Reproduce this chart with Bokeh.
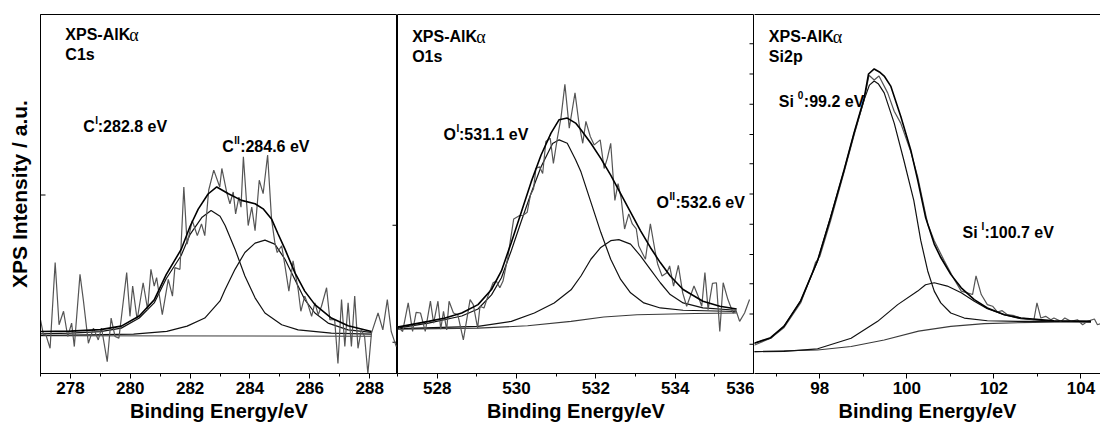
import math
from bokeh.plotting import figure
from bokeh.layouts import row
from bokeh.models import Range1d, FixedTicker, LinearAxis, Label
from bokeh.embed import file_html
from bokeh.resources import INLINE

FONT = "Liberation Sans"
SERIF = "Liberation Serif"

# ---------------- Panel 1 : C1s ----------------
c1s_raw_x = [277.0, 277.10, 277.18, 277.32, 277.49, 277.62, 277.77, 277.91, 278.04, 278.13,
             278.32, 278.43, 278.60, 278.77, 278.93, 279.04, 279.23, 279.36, 279.49, 279.62,
             279.88, 279.99, 280.08, 280.23, 280.43, 280.58, 280.69, 280.80, 280.88, 281.07,
             281.27, 281.41, 281.49, 281.66, 281.79, 281.90, 282.07, 282.24, 282.38, 282.49,
             282.62, 282.79, 282.99, 283.06, 283.22, 283.33, 283.44, 283.52, 283.63, 283.70,
             283.78, 283.94, 284.06, 284.17, 284.31, 284.44, 284.59, 284.72, 284.83, 284.91,
             285.06, 285.17, 285.30, 285.44, 285.61, 285.70, 285.83, 285.94, 286.06, 286.17,
             286.28, 286.39, 286.56, 286.67, 286.83, 286.94, 287.06, 287.17, 287.28, 287.39,
             287.50, 287.61, 287.72, 287.83, 287.94, 288.06, 288.28, 288.44, 288.59, 288.72,
             288.89]
c1s_raw_y = [53.3, 38.3, 38.3, 25, 110, 48.3, 61.7, 36.7, 50, 26.7,
             98.3, 73.3, 30, 45, 33.3, 45, 11.7, 55, 36.7, 35,
             100, 56.7, 86.7, 53.3, 90, 63.3, 103.3, 86.7, 95, 58.3,
             93.3, 76.7, 105, 103.3, 185, 128.3, 151.7, 136.7, 148.3, 136.7,
             181.7, 201.7, 185, 203.3, 180, 168.3, 180, 158.3, 175, 165,
             215, 146.7, 165, 141.7, 191.7, 178.3, 216.7, 153.3, 130, 120,
             126.7, 106.7, 81.7, 111.7, 83.3, 61.7, 76.7, 68.3, 56.7, 70,
             58.3, 66.7, 85, 53.3, 53.3, 10, 73.3, 26.7, 70, 26.7,
             76.7, 25, 43.3, 36.7, 0, 40, 60, 43.3, 73.3, 41.7,
             26.7]
c1s_env_x = [277.0, 278.0, 279.0, 279.7, 280.3, 280.8, 281.2, 281.7, 282.0, 282.27,
             282.6, 282.89, 283.28, 283.72, 284.17, 284.44, 284.72, 284.94, 285.17, 285.5,
             285.83, 286.17, 286.72, 287.28, 288.06]
c1s_env_y = [41.7, 42, 43.5, 47, 57, 73, 98, 123, 146, 163,
             178, 185, 178.3, 171.7, 168.3, 163.3, 153.3, 138.3, 123.3, 100,
             81.7, 68.3, 55, 47.3, 41.7]
c1s_p1_x = [277.0, 278.0, 279.0, 279.7, 280.3, 280.8, 281.2, 281.7, 282.0, 282.4,
            282.7, 283.0, 283.17, 283.5, 283.83, 284.17, 284.5, 285.06, 285.61, 286.72,
            288.06]
c1s_p1_y = [39.3, 40, 41.5, 45, 55, 70, 94, 117, 138, 155,
            161.7, 156, 146.7, 123.3, 96.7, 75, 60, 48.3, 43.3, 40,
            39]
c1s_p2_x = [277.0, 280.11, 281.22, 281.9, 282.49, 283.0, 283.17, 283.5, 283.83, 284.17,
            284.5, 284.83, 285.17, 285.5, 285.83, 286.17, 286.61, 287.28, 288.06]
c1s_p2_y = [37.7, 39, 41.7, 47, 55, 72, 83.3, 103.3, 120, 129.3,
            132.3, 128.3, 113.3, 93.3, 73.3, 60, 50, 43.3, 40.7]
c1s_bg_x = [277.0, 288.06]
c1s_bg_y = [37.5, 37.0]

# ---------------- Panel 2 : O1s ----------------
o1s_raw_x = [527.0, 527.13, 527.27, 527.38, 527.47, 527.58, 527.70, 527.83, 527.91, 528.02,
             528.09, 528.16, 528.24, 528.30, 528.41, 528.52, 528.66, 528.83, 528.91, 529.02,
             529.08, 529.18, 529.28, 529.41, 529.49, 529.58, 529.66, 529.78, 529.93, 530.08,
             530.16, 530.27, 530.35, 530.43, 530.49, 530.58, 530.66, 530.74, 530.85, 530.93,
             531.03, 531.12, 531.22, 531.33, 531.475, 531.58, 531.67, 531.75, 531.86, 531.96,
             532.11, 532.21, 532.29, 532.375, 532.48, 532.56, 532.64, 532.725, 532.83, 532.92,
             533.02, 533.08, 533.25, 533.375, 533.5, 533.56, 533.67, 533.79, 533.86, 533.96,
             534.08, 534.19, 534.29, 534.475, 534.58, 534.67, 534.75, 534.83, 534.94, 535.04,
             535.125, 535.21, 535.33, 535.46, 535.54, 535.625, 535.75, 535.875]
o1s_raw_y = [46.7, 41.7, 70, 41.7, 60.7, 60, 41.7, 71.7, 50, 71.7,
             44, 61.7, 43.3, 71.7, 60, 58.3, 33.3, 73.3, 68.3, 45,
             66.7, 65, 76.7, 90, 91.7, 85, 91.7, 115, 153.3, 156.7,
             156.7, 160, 176.7, 183.3, 203.3, 205, 198.3, 230, 233.3, 208.3,
             233.3, 253.3, 286.7, 243.3, 278.3, 246.7, 228.3, 250, 235, 226.7,
             231.7, 203.3, 213.3, 228.3, 171.7, 188.3, 173.3, 143.3, 158.3, 148.3,
             143.3, 126.7, 113.3, 148.3, 120, 108.3, 96.7, 100, 106.7, 86.7,
             107.3, 80, 66.7, 86.7, 76.7, 66.7, 100, 63.3, 89.3, 90,
             41.7, 90, 73.3, 60, 61.7, 51.7, 60, 73.3]
o1s_env_x = [527.0, 527.78, 528.2, 528.62, 529.03, 529.37, 529.62, 529.87, 530.12, 530.37,
             530.62, 530.87, 531.075, 531.28, 531.49, 531.625, 531.875, 532.125, 532.375, 532.625,
             532.875, 533.125, 533.375, 533.625, 533.875, 534.2, 534.7, 535.125, 535.55]
o1s_env_y = [46, 51.7, 55, 60, 68.3, 83.3, 101.7, 130, 160, 190,
             216.7, 238.3, 251.7, 253.3, 248.3, 241.7, 228.3, 213.3, 196.7, 178.3,
             160, 141.7, 125, 110, 96.7, 83.3, 71.7, 66.7, 64]
o1s_p1_x = [527.0, 527.78, 528.62, 529.03, 529.37, 529.62, 529.87, 530.12, 530.37, 530.62,
            530.91, 531.075, 531.28, 531.49, 531.625, 531.875, 532.125, 532.375, 532.625, 532.875,
            533.21, 533.625, 534.2, 535.55]
o1s_p1_y = [45, 50, 57, 64, 78, 95, 122, 151, 179, 205,
            228, 231.7, 228.3, 212, 200, 170, 140, 113.3, 93.3, 80,
            70, 65, 62.7, 61.5]
o1s_p2_x = [527.0, 529.03, 529.87, 530.45, 530.95, 531.375, 531.625, 531.875, 532.125, 532.375,
            532.58, 532.875, 533.125, 533.375, 533.625, 533.875, 534.2, 534.7, 535.55]
o1s_p2_y = [44.5, 46.7, 51.7, 60, 70, 83, 96.7, 113.3, 125, 131.7,
            132.7, 128.3, 116.7, 103.3, 90, 78.3, 70, 65, 62.7]
o1s_bg_x = [527.0, 529.03, 530.28, 531.375, 532.2, 533.04, 534.5, 535.55]
o1s_bg_y = [44, 45, 47.3, 51.7, 56, 58.3, 59.5, 60]

# ---------------- Panel 3 : Si2p ----------------
si_raw_x = [96.49, 96.87, 97.18, 97.56, 97.83, 97.90, 98.00, 98.25, 98.56, 98.79,
            99.02, 99.13, 99.25, 99.36, 99.56, 99.71, 99.86, 100.09, 100.25, 100.43,
            100.48, 100.63, 100.86, 101.09, 101.25, 101.39, 101.51, 101.59, 101.71, 101.85,
            101.97, 102.08, 102.19, 102.31, 102.47, 102.62, 102.78, 102.92, 102.99, 103.08,
            103.19, 103.31, 103.38, 103.54, 103.63, 103.77, 103.92, 104.04, 104.15, 104.31,
            104.38, 104.49]
si_raw_y = [28, 35, 45.7, 70, 100, 110, 116, 151.7, 200, 236.7,
            271.7, 295.7, 291, 295, 278.3, 260, 248.3, 220, 195, 158.3,
            148.3, 131.7, 111.7, 93.3, 81.7, 80, 78.3, 96.7, 78.3, 68.3,
            66.7, 61, 62.3, 58.3, 57.3, 55, 54.3, 53.3, 70, 55,
            56.7, 53.3, 55, 51.7, 55, 51.7, 53.3, 48.3, 51.7, 54,
            48.3, 50]
si_env_x = [96.49, 96.87, 97.18, 97.56, 97.95, 98.25, 98.56, 98.79, 99.02, 99.12,
            99.25, 99.37, 99.48, 99.63, 99.86, 100.09, 100.25, 100.43, 100.63, 100.78,
            101.01, 101.25, 101.55, 101.85, 102.24, 102.62, 103.38, 104.23]
si_env_y = [30, 35.5, 47, 72, 112, 155, 202, 239, 273, 297,
            302, 299, 295, 285, 255, 221.7, 191.7, 155, 128.3, 115,
            98.3, 85, 73.3, 65, 58.3, 55, 52.3, 51.7]
si_p0_x = [96.49, 96.87, 97.18, 97.56, 97.95, 98.25, 98.56, 98.79, 99.02, 99.14,
           99.25, 99.35, 99.48, 99.71, 99.93, 100.16, 100.32, 100.48, 100.63, 100.78,
           101.01, 101.32, 101.85, 102.62, 104.23]
si_p0_y = [30, 35, 46.7, 71.7, 111.7, 155, 201.7, 238.3, 271.7, 286,
           290, 287, 278.3, 248.3, 211.7, 171.7, 132, 101.7, 81.7, 70,
           60, 55, 52.3, 51.7, 51.7]
si_p1_x = [96.49, 97.18, 97.95, 98.72, 99.33, 99.79, 100.25, 100.43, 100.63, 100.93,
           101.25, 101.55, 101.85, 102.24, 102.62, 103.38, 104.23]
si_p1_y = [21.7, 22, 24.5, 35, 51.7, 68.3, 81.7, 88, 90, 86.7,
           80, 71.7, 64.3, 58.3, 54.3, 51.7, 51]
si_bg_x = [96.49, 97.95, 98.72, 99.48, 100.27, 101.01, 101.78, 102.92, 104.23]
si_bg_y = [21.7, 23.3, 26.7, 33.3, 42, 46.7, 49.5, 50.7, 51.5]

# intensity tick marks (no labels on the intensity scales)
p1_left_ticks = [0, 177]
p1_right_ticks = [31, 147]
p2_right_ticks = [29, 59, 89, 118, 148, 178, 208, 237, 267, 297, 327]

RAW = "#555555"
FIT = "#111111"
ENV = "#000000"
BG = "#3a3a3a"

H = 424


def make_fig(width, xr, left_border, majors, minors, outline=True):
    p = figure(width=width, height=H, x_range=Range1d(*xr), y_range=Range1d(0, 356),
               output_backend="svg", toolbar_location=None,
               min_border_left=left_border, min_border_right=0,
               min_border_top=14, min_border_bottom=0)
    p.grid.visible = False
    p.background_fill_color = "white"
    p.border_fill_color = "white"
    p.outline_line_color = "black" if outline else None
    p.outline_line_width = 1
    xa = p.xaxis[0]
    xa.ticker = FixedTicker(ticks=majors, minor_ticks=minors)
    xa.major_tick_in = 0
    xa.major_tick_out = 5
    xa.minor_tick_in = 0
    xa.minor_tick_out = 3
    xa.axis_line_color = "black"
    xa.major_tick_line_color = "black"
    xa.minor_tick_line_color = "black"
    xa.major_label_text_font = FONT
    xa.major_label_text_font_style = "bold"
    xa.major_label_text_font_size = "17px"
    xa.major_label_text_color = "black"
    xa.major_label_standoff = 3
    xa.axis_label = "Binding Energy/eV"
    xa.axis_label_text_font = FONT
    xa.axis_label_text_font_style = "bold"
    xa.axis_label_text_font_size = "20px"
    xa.axis_label_text_color = "black"
    xa.axis_label_standoff = 3
    return p


def y_ticks(p, x_edge, ticks, angle):
    p.ray(x=[x_edge] * len(ticks), y=ticks, length=5, length_units="screen",
          angle=angle, line_color="black", line_width=1)


def draw(p, raw, bg, peaks, env):
    p.line(bg[0], bg[1], line_color=BG, line_width=1.1)
    for px, py in peaks:
        p.line(px, py, line_color=FIT, line_width=1.2)
    p.line(raw[0], raw[1], line_color=RAW, line_width=1.2)
    p.line(env[0], env[1], line_color=ENV, line_width=1.6)


def text(p, x, y, parts):
    for s, dx, dy, size in parts:
        font = SERIF if s == "α" else FONT
        style = "normal" if s == "α" else "bold"
        p.add_layout(Label(x=x, y=y, text=s, x_offset=dx, y_offset=dy,
                           text_font=font, text_font_style=style,
                           text_font_size=size, text_color="black",
                           text_baseline="middle", text_align="left"))


HEADER = [("XPS-AlK", 0, 0, "16px"), ("α", 64, 0, "18px")]

# ---- Panel 1
X1 = (277.0, 288.93)
p1 = make_fig(397, X1, 40, [278, 280, 282, 284, 286, 288],
              [277, 279, 281, 283, 285, 287, 289])
ya = p1.yaxis[0]
ya.ticker = FixedTicker(ticks=[], minor_ticks=[])
ya.major_tick_in = 0
ya.major_tick_out = 0
ya.minor_tick_in = 0
ya.minor_tick_out = 0
ya.major_label_standoff = 0
ya.axis_line_color = "black"
ya.axis_label = "XPS Intensity / a.u."
ya.axis_label_text_font = FONT
ya.axis_label_text_font_style = "bold"
ya.axis_label_text_font_size = "21px"
ya.axis_label_text_color = "black"
ya.axis_label_standoff = 10
y_ticks(p1, X1[0], p1_left_ticks, 0)
y_ticks(p1, X1[1], p1_right_ticks, math.pi)
draw(p1, (c1s_raw_x, c1s_raw_y), (c1s_bg_x, c1s_bg_y),
     [(c1s_p1_x, c1s_p1_y), (c1s_p2_x, c1s_p2_y)], (c1s_env_x, c1s_env_y))
text(p1, 277.83, 336, HEADER)
text(p1, 277.83, 316, [("C1s", 0, 0, "16px")])
text(p1, 278.43, 245, [("C", 0, 0, "16px"), ("I", 12, 6, "10px"), (":282.8 eV", 14.5, 0, "16px")])
text(p1, 283.07, 225, [("C", 0, 0, "16px"), ("II", 12, 6, "10px"), (":284.6 eV", 18, 0, "16px")])

# ---- Panel 2
X2 = (527.0, 536.0)
p2 = make_fig(357, X2, 0, [528, 530, 532, 534, 536], [527, 529, 531, 533, 535])
p2.yaxis.visible = False
y_ticks(p2, X2[1], p2_right_ticks, math.pi)
draw(p2, (o1s_raw_x, o1s_raw_y), (o1s_bg_x, o1s_bg_y),
     [(o1s_p1_x, o1s_p1_y), (o1s_p2_x, o1s_p2_y)], (o1s_env_x, o1s_env_y))
text(p2, 527.37, 334, HEADER)
text(p2, 527.37, 314, [("O1s", 0, 0, "16px")])
text(p2, 528.16, 236.7, [("O", 0, 0, "16px"), ("I", 13, 6, "10px"), (":531.1 eV", 15.5, 0, "16px")])
text(p2, 533.53, 170, [("O", 0, 0, "16px"), ("II", 13, 6, "10px"), (":532.6 eV", 19, 0, "16px")])

# ---- Panel 3
X3 = (96.5, 104.45)
p3 = make_fig(346, X3, 0, [98, 100, 102, 104], [97, 99, 101, 103], outline=False)
p3.yaxis.visible = False
top = LinearAxis(ticker=FixedTicker(ticks=[], minor_ticks=[]), major_tick_in=0, major_tick_out=0,
                 minor_tick_in=0, minor_tick_out=0, major_label_standoff=0,
                 axis_line_color="black")
p3.add_layout(top, "above")
draw(p3, (si_raw_x, si_raw_y), (si_bg_x, si_bg_y),
     [(si_p0_x, si_p0_y), (si_p1_x, si_p1_y)], (si_env_x, si_env_y))
text(p3, 96.83, 334, HEADER)
text(p3, 96.83, 314, [("Si2p", 0, 0, "16px")])
text(p3, 97.06, 270, [("Si", 0, 0, "16px"), ("0", 19, 6, "10px"), (":99.2 eV", 25, 0, "16px")])
text(p3, 101.28, 140, [("Si", 0, 0, "16px"), ("I", 19, 6, "10px"), (":100.7 eV", 22, 0, "16px")])

layout = row(p1, p2, p3, spacing=0)
open("out.html", "w").write(file_html(layout, INLINE))
